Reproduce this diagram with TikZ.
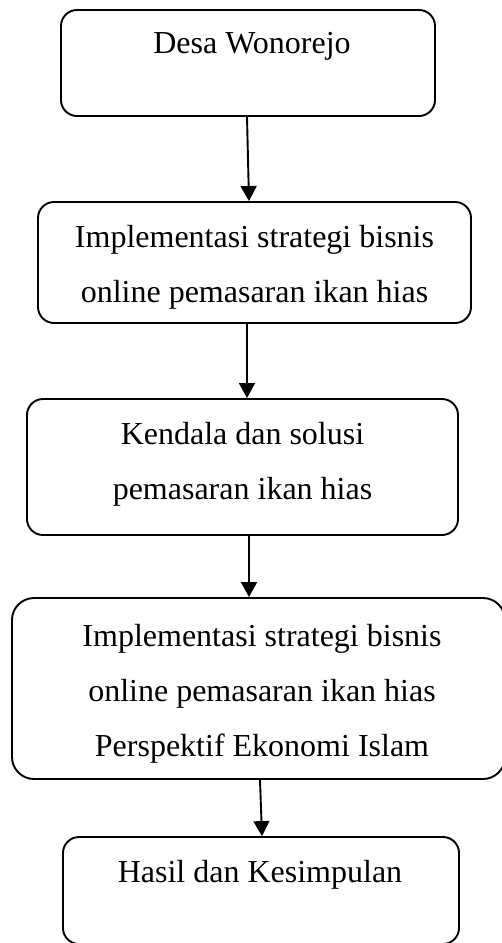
\documentclass[tikz,border=0pt]{standalone}
\usepackage{fontspec}
\setmainfont{Liberation Serif}
\usepackage{tikz}
\usetikzlibrary{arrows.meta}
\tikzset{%
  flowbox/.style={draw, rounded corners=16pt, line width=1.9pt, inner sep=0, rectangle},
  flowtext/.style={align=center, inner sep=0, font=\fontsize{32pt}{55pt}\selectfont},
  flowarrow/.style={line width=1.9pt, -{Triangle[width=16pt,length=15pt]}}
}
\newcommand{\textdrop}{-24pt}

\begin{document}
\begin{tikzpicture}[x=1pt,y=-1pt]

\useasboundingbox (0,0) rectangle (501,943);

\node (desa) at (248,63) [flowbox, minimum width=374pt, minimum height=106pt, label={[flowtext, name=desaText, anchor=north, xshift=4pt, yshift=-23pt]north:Desa Wonorejo}] {};

\node (strategi) at (254.5,262.5) [flowbox, minimum width=433pt, minimum height=121pt, label={[flowtext, name=strategiText, anchor=north, yshift=\textdrop]north:Implementasi strategi bisnis\\online pemasaran ikan hias}] {};

\node (kendala) at (242.5,467) [flowbox, minimum width=431pt, minimum height=136pt, label={[flowtext, name=kendalaText, anchor=north, yshift=\textdrop]north:Kendala dan solusi\\pemasaran ikan hias}] {};

\node (islam) at (258.5,688.5) [flowbox, rounded corners=22pt, minimum width=493pt, minimum height=181pt, label={[flowtext, name=islamText, anchor=north, xshift=3.5pt, yshift=-27pt]north:Implementasi strategi bisnis\\online pemasaran ikan hias\\Perspektif Ekonomi Islam}] {};

\node (hasil) at (261,890.5) [flowbox, minimum width=396pt, minimum height=107pt, label={[flowtext, name=hasilText, anchor=north, xshift=-1pt, yshift=\textdrop]north:Hasil dan Kesimpulan}] {};

%\draw[dashed] (desa.south) -- (strategi.north);
\draw[flowarrow] ([xshift=-1pt]desa.south) -- ([xshift=-5.5pt]strategi.north);
\draw[flowarrow] ([xshift=-7.5pt]strategi.south) -- ([xshift=4.5pt]kendala.north);
\draw[flowarrow] ([xshift=6.5pt]kendala.south) -- ([xshift=-9.5pt]islam.north);
\draw[flowarrow] ([xshift=1.5pt]islam.south) -- ([xshift=1pt]hasil.north);

\end{tikzpicture}
\end{document}
